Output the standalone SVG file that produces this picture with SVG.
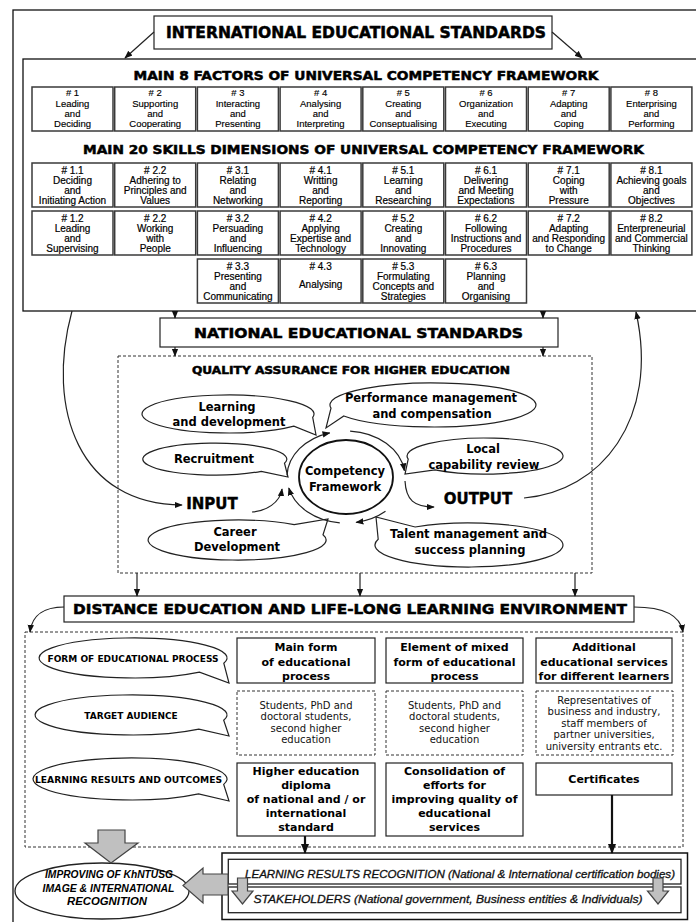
<svg xmlns="http://www.w3.org/2000/svg" width="696" height="922" viewBox="0 0 696 922">
<style>
.bx{fill:#fff;stroke:#3a3a3a;stroke-width:1.5}
.sb{fill:#fff;stroke:#222;stroke-width:1.2}
.db{fill:#fff;stroke:#333;stroke-width:1;stroke-dasharray:3 2}
.bub{fill:#fff;stroke:#222;stroke-width:1.2}
.c{fill:none;stroke:#222;stroke-width:1.2}
.ck{fill:none;stroke:#111;stroke-width:2.2}
.g{fill:#c0c0c0;stroke:#444;stroke-width:1.2}
text{fill:#000}
.s{font-family:"Liberation Sans",Arial,sans-serif;font-size:9.5px;text-anchor:middle;stroke:#000;stroke-width:0.15}
.k{font-family:"Liberation Sans",Arial,sans-serif;font-size:10px;text-anchor:middle;stroke:#000;stroke-width:0.2}
.h{font-family:"DejaVu Sans",Verdana,sans-serif;font-weight:bold;text-anchor:middle;stroke:#000;stroke-width:0.5}
.r{font-family:"DejaVu Sans",Verdana,sans-serif;font-size:10px;text-anchor:middle;fill:#111}
.bt{font-family:"DejaVu Sans",Verdana,sans-serif;font-weight:bold;font-size:11.5px;text-anchor:middle}
.mb{font-family:"DejaVu Sans",Verdana,sans-serif;font-weight:bold;font-size:11px;text-anchor:middle}
.lc{font-family:"DejaVu Sans",Verdana,sans-serif;font-weight:bold;font-size:9px;text-anchor:middle}
.io{font-family:"DejaVu Sans",Verdana,sans-serif;font-weight:bold;font-size:15px;text-anchor:middle;stroke:#000;stroke-width:0.4}
.it{font-family:"Liberation Sans",Arial,sans-serif;font-style:italic;text-anchor:middle;fill:#111;stroke:#111;stroke-width:0.3}
.ib{font-family:"Liberation Sans",Arial,sans-serif;font-style:italic;font-weight:bold;font-size:10px;text-anchor:middle}
</style>
<defs>
<marker id="ah" viewBox="0 0 10 10" refX="9" refY="5" markerWidth="8" markerHeight="8" markerUnits="userSpaceOnUse" orient="auto"><path d="M0,1 L10,5 L0,9 z" fill="#111"/></marker>
<marker id="ahb" viewBox="0 0 10 10" refX="9" refY="5" markerWidth="10" markerHeight="10" markerUnits="userSpaceOnUse" orient="auto"><path d="M0,1 L10,5 L0,9 z" fill="#111"/></marker>
</defs>
<rect width="696" height="922" fill="#fff"/>
<rect x="13" y="10" width="700" height="930" fill="none" stroke="#111" stroke-width="1.3"/>

<g id="international">
<rect class="sb" x="154" y="16" width="398" height="33"/>
<text class="h" x="356" y="38" font-size="15" textLength="380" lengthAdjust="spacingAndGlyphs">INTERNATIONAL EDUCATIONAL STANDARDS</text>
</g>

<g id="framework">
<rect fill="#fff" stroke="#111" stroke-width="1.3" x="23" y="59" width="680" height="252"/>
<text class="h" x="366" y="79.5" font-size="12.5" textLength="465" lengthAdjust="spacingAndGlyphs">MAIN 8 FACTORS OF UNIVERSAL COMPETENCY FRAMEWORK</text>
<text class="h" x="363.5" y="153.5" font-size="12.5" textLength="561" lengthAdjust="spacingAndGlyphs">MAIN 20 SKILLS DIMENSIONS OF UNIVERSAL COMPETENCY FRAMEWORK</text>
</g>

<g id="f1"><rect class="bx" x="32" y="87" width="81" height="44"/><text class="s"><tspan x="72.5" y="95.5"># 1</tspan><tspan x="72.5" y="107">Leading</tspan><tspan x="72.5" y="117">and</tspan><tspan x="72.5" y="127">Deciding</tspan></text></g>
<g id="f2"><rect class="bx" x="114.7" y="87" width="81" height="44"/><text class="s"><tspan x="155.2" y="95.5"># 2</tspan><tspan x="155.2" y="107">Supporting</tspan><tspan x="155.2" y="117">and</tspan><tspan x="155.2" y="127">Cooperating</tspan></text></g>
<g id="f3"><rect class="bx" x="197.4" y="87" width="81" height="44"/><text class="s"><tspan x="237.9" y="95.5"># 3</tspan><tspan x="237.9" y="107">Interacting</tspan><tspan x="237.9" y="117">and</tspan><tspan x="237.9" y="127">Presenting</tspan></text></g>
<g id="f4"><rect class="bx" x="280.1" y="87" width="81" height="44"/><text class="s"><tspan x="320.6" y="95.5"># 4</tspan><tspan x="320.6" y="107">Analysing</tspan><tspan x="320.6" y="117">and</tspan><tspan x="320.6" y="127">Interpreting</tspan></text></g>
<g id="f5"><rect class="bx" x="362.8" y="87" width="81" height="44"/><text class="s"><tspan x="403.3" y="95.5"># 5</tspan><tspan x="403.3" y="107">Creating</tspan><tspan x="403.3" y="117">and</tspan><tspan x="403.3" y="127">Conseptualising</tspan></text></g>
<g id="f6"><rect class="bx" x="445.5" y="87" width="81" height="44"/><text class="s"><tspan x="486" y="95.5"># 6</tspan><tspan x="486" y="107">Organization</tspan><tspan x="486" y="117">and</tspan><tspan x="486" y="127">Executing</tspan></text></g>
<g id="f7"><rect class="bx" x="528.2" y="87" width="81" height="44"/><text class="s"><tspan x="568.7" y="95.5"># 7</tspan><tspan x="568.7" y="107">Adapting</tspan><tspan x="568.7" y="117">and</tspan><tspan x="568.7" y="127">Coping</tspan></text></g>
<g id="f8"><rect class="bx" x="610.9" y="87" width="81" height="44"/><text class="s"><tspan x="651.4" y="95.5"># 8</tspan><tspan x="651.4" y="107">Enterprising</tspan><tspan x="651.4" y="117">and</tspan><tspan x="651.4" y="127">Performing</tspan></text></g>

<g id="s11"><rect class="bx" x="32" y="163" width="81" height="44"/><text class="k"><tspan x="72.5" y="173.5"># 1.1</tspan><tspan x="72.5" y="183.5">Deciding</tspan><tspan x="72.5" y="193.5">and</tspan><tspan x="72.5" y="203.5">Initiating Action</tspan></text></g>
<g id="s21"><rect class="bx" x="114.7" y="163" width="81" height="44"/><text class="k"><tspan x="155.2" y="173.5"># 2.2</tspan><tspan x="155.2" y="183.5">Adhering to</tspan><tspan x="155.2" y="193.5">Principles and</tspan><tspan x="155.2" y="203.5">Values</tspan></text></g>
<g id="s31"><rect class="bx" x="197.4" y="163" width="81" height="44"/><text class="k"><tspan x="237.9" y="173.5"># 3.1</tspan><tspan x="237.9" y="183.5">Relating</tspan><tspan x="237.9" y="193.5">and</tspan><tspan x="237.9" y="203.5">Networking</tspan></text></g>
<g id="s41"><rect class="bx" x="280.1" y="163" width="81" height="44"/><text class="k"><tspan x="320.6" y="173.5"># 4.1</tspan><tspan x="320.6" y="183.5">Writting</tspan><tspan x="320.6" y="193.5">and</tspan><tspan x="320.6" y="203.5">Reporting</tspan></text></g>
<g id="s51"><rect class="bx" x="362.8" y="163" width="81" height="44"/><text class="k"><tspan x="403.3" y="173.5"># 5.1</tspan><tspan x="403.3" y="183.5">Learning</tspan><tspan x="403.3" y="193.5">and</tspan><tspan x="403.3" y="203.5">Researching</tspan></text></g>
<g id="s61"><rect class="bx" x="445.5" y="163" width="81" height="44"/><text class="k"><tspan x="486" y="173.5"># 6.1</tspan><tspan x="486" y="183.5">Delivering</tspan><tspan x="486" y="193.5">and Meeting</tspan><tspan x="486" y="203.5">Expectations</tspan></text></g>
<g id="s71"><rect class="bx" x="528.2" y="163" width="81" height="44"/><text class="k"><tspan x="568.7" y="173.5"># 7.1</tspan><tspan x="568.7" y="183.5">Coping</tspan><tspan x="568.7" y="193.5">with</tspan><tspan x="568.7" y="203.5">Pressure</tspan></text></g>
<g id="s81"><rect class="bx" x="610.9" y="163" width="81" height="44"/><text class="k"><tspan x="651.4" y="173.5"># 8.1</tspan><tspan x="651.4" y="183.5">Achieving goals</tspan><tspan x="651.4" y="193.5">and</tspan><tspan x="651.4" y="203.5">Objectives</tspan></text></g>

<g id="s12"><rect class="bx" x="32" y="211" width="81" height="44"/><text class="k"><tspan x="72.5" y="221.5"># 1.2</tspan><tspan x="72.5" y="231.5">Leading</tspan><tspan x="72.5" y="241.5">and</tspan><tspan x="72.5" y="251.5">Supervising</tspan></text></g>
<g id="s22"><rect class="bx" x="114.7" y="211" width="81" height="44"/><text class="k"><tspan x="155.2" y="221.5"># 2.2</tspan><tspan x="155.2" y="231.5">Working</tspan><tspan x="155.2" y="241.5">with</tspan><tspan x="155.2" y="251.5">People</tspan></text></g>
<g id="s32"><rect class="bx" x="197.4" y="211" width="81" height="44"/><text class="k"><tspan x="237.9" y="221.5"># 3.2</tspan><tspan x="237.9" y="231.5">Persuading</tspan><tspan x="237.9" y="241.5">and</tspan><tspan x="237.9" y="251.5">Influencing</tspan></text></g>
<g id="s42"><rect class="bx" x="280.1" y="211" width="81" height="44"/><text class="k"><tspan x="320.6" y="221.5"># 4.2</tspan><tspan x="320.6" y="231.5">Applying</tspan><tspan x="320.6" y="241.5">Expertise and</tspan><tspan x="320.6" y="251.5">Technology</tspan></text></g>
<g id="s52"><rect class="bx" x="362.8" y="211" width="81" height="44"/><text class="k"><tspan x="403.3" y="221.5"># 5.2</tspan><tspan x="403.3" y="231.5">Creating</tspan><tspan x="403.3" y="241.5">and</tspan><tspan x="403.3" y="251.5">Innovating</tspan></text></g>
<g id="s62"><rect class="bx" x="445.5" y="211" width="81" height="44"/><text class="k"><tspan x="486" y="221.5"># 6.2</tspan><tspan x="486" y="231.5">Following</tspan><tspan x="486" y="241.5">Instructions and</tspan><tspan x="486" y="251.5">Procedures</tspan></text></g>
<g id="s72"><rect class="bx" x="528.2" y="211" width="81" height="44"/><text class="k"><tspan x="568.7" y="221.5"># 7.2</tspan><tspan x="568.7" y="231.5">Adapting</tspan><tspan x="568.7" y="241.5">and Responding</tspan><tspan x="568.7" y="251.5">to Change</tspan></text></g>
<g id="s82"><rect class="bx" x="610.9" y="211" width="81" height="44"/><text class="k"><tspan x="651.4" y="221.5"># 8.2</tspan><tspan x="651.4" y="231.5">Enterpreneurial</tspan><tspan x="651.4" y="241.5">and Commercial</tspan><tspan x="651.4" y="251.5">Thinking</tspan></text></g>

<g id="s33"><rect class="bx" x="197.4" y="259" width="81" height="44"/><text class="k"><tspan x="237.9" y="269.5"># 3.3</tspan><tspan x="237.9" y="279.5">Presenting</tspan><tspan x="237.9" y="289.5">and</tspan><tspan x="237.9" y="299.5">Communicating</tspan></text></g>
<g id="s43"><rect class="bx" x="280.1" y="259" width="81" height="44"/><text class="k"><tspan x="320.6" y="269.5"># 4.3</tspan><tspan x="320.6" y="288">Analysing</tspan></text></g>
<g id="s53"><rect class="bx" x="362.8" y="259" width="81" height="44"/><text class="k"><tspan x="403.3" y="269.5"># 5.3</tspan><tspan x="403.3" y="279.5">Formulating</tspan><tspan x="403.3" y="289.5">Concepts and</tspan><tspan x="403.3" y="299.5">Strategies</tspan></text></g>
<g id="s63"><rect class="bx" x="445.5" y="259" width="81" height="44"/><text class="k"><tspan x="486" y="269.5"># 6.3</tspan><tspan x="486" y="279.5">Planning</tspan><tspan x="486" y="289.5">and</tspan><tspan x="486" y="299.5">Organising</tspan></text></g>

<g id="national">
<rect class="sb" x="160" y="318" width="398" height="29"/>
<text class="h" x="358.5" y="338" font-size="14.5" textLength="329" lengthAdjust="spacingAndGlyphs">NATIONAL EDUCATIONAL STANDARDS</text>
</g>

<g id="quality-assurance">
<rect class="db" x="118" y="356" width="474" height="217"/>
<text class="h" x="351" y="374" font-size="10.5" textLength="318" lengthAdjust="spacingAndGlyphs">QUALITY ASSURANCE FOR HIGHER EDUCATION</text>
</g>

<g id="learning-dev"><path class="bub" d="M293.9,426.2 A86,19 0 1,1 312.7,417.3 L316,435 Z"/><text class="bt"><tspan x="227" y="411">Learning</tspan><tspan x="229" y="426">and development</tspan></text></g>
<g id="performance"><path class="bub" d="M331,408.1 A103,22 0 1,1 343.8,416 L326,428 Z"/><text class="bt"><tspan x="431" y="402">Performance management</tspan><tspan x="432" y="418">and compensation</tspan></text></g>
<g id="recruitment"><path class="bub" d="M261.3,471.3 A72,16 0 1,1 284.5,463.1 L288,477 Z"/><text class="bt" x="214" y="463">Recruitment</text></g>
<g id="local-review"><path class="bub" d="M408.2,459.1 A78,18 0 1,1 434.9,469.8 L405,474 Z"/><text class="bt"><tspan x="483" y="453">Local</tspan><tspan x="484" y="469">capability review</tspan></text></g>
<g id="career"><path class="bub" d="M323,534.8 A89,20 0 1,1 294.2,524.7 L328,519 Z"/><text class="bt"><tspan x="235" y="536">Career</tspan><tspan x="237" y="551">Development</tspan></text></g>
<g id="talent"><path class="bub" d="M415.1,527 A94,22 0 1,1 378.2,539.3 L376,517 Z"/><text class="bt"><tspan x="468.5" y="538">Talent management and</tspan><tspan x="470" y="554">success planning</tspan></text></g>
<g id="competency"><ellipse cx="346" cy="477" rx="47" ry="37" fill="#fff" stroke="#111" stroke-width="1.8"/><text class="bt"><tspan x="345" y="475">Competency</tspan><tspan x="345" y="491">Framework</tspan></text></g>
<g id="input"><text class="io" x="212" y="509">INPUT</text></g>
<g id="output"><text class="io" x="478" y="503.5">OUTPUT</text></g>

<g id="distance">
<rect class="sb" x="64" y="596" width="570" height="26"/>
<text class="h" x="350" y="614" font-size="14" textLength="554" lengthAdjust="spacingAndGlyphs">DISTANCE EDUCATION AND LIFE-LONG LEARNING ENVIRONMENT</text>
</g>

<g id="learning-env"><rect class="db" x="25" y="632" width="658" height="215"/></g>

<g id="form-callout"><path class="bub" d="M199.5,672.1 A94,20 0 1,1 223.8,663.2 L229,683 Z"/><text class="lc" x="133" y="661.5" textLength="171" lengthAdjust="spacingAndGlyphs">FORM OF EDUCATIONAL PROCESS</text></g>
<g id="target-callout"><path class="bub" d="M198.9,729.1 A96,20 0 1,1 223.7,720.2 L229,736 Z"/><text class="lc" x="131" y="718.5">TARGET AUDIENCE</text></g>
<g id="results-callout"><path class="bub" d="M198.6,793.8 A97,21 0 1,1 223.7,784.4 L229,801 Z"/><text class="lc" x="128.5" y="782.5" textLength="187" lengthAdjust="spacingAndGlyphs">LEARNING RESULTS AND OUTCOMES</text></g>

<g id="main-form"><rect class="sb" x="237" y="638" width="138" height="45"/><text class="mb"><tspan x="306" y="651">Main form</tspan><tspan x="306" y="666">of educational</tspan><tspan x="306" y="680">process</tspan></text></g>
<g id="mixed-form"><rect class="sb" x="386" y="638" width="137" height="45"/><text class="mb"><tspan x="454.5" y="651">Element of mixed</tspan><tspan x="454.5" y="666">form of educational</tspan><tspan x="454.5" y="680">process</tspan></text></g>
<g id="additional"><rect class="sb" x="536" y="638" width="136" height="45"/><text class="mb"><tspan x="604" y="651">Additional</tspan><tspan x="604" y="666">educational services</tspan><tspan x="604" y="680">for different learners</tspan></text></g>

<g id="audience-a"><rect class="db" x="237" y="691" width="138" height="64"/><text class="r"><tspan x="306" y="708.5">Students, PhD and</tspan><tspan x="306" y="720">doctoral students,</tspan><tspan x="306" y="731.5">second higher</tspan><tspan x="306" y="743">education</tspan></text></g>
<g id="audience-b"><rect class="db" x="386" y="691" width="137" height="64"/><text class="r"><tspan x="454.5" y="708.5">Students, PhD and</tspan><tspan x="454.5" y="720">doctoral students,</tspan><tspan x="454.5" y="731.5">second higher</tspan><tspan x="454.5" y="743">education</tspan></text></g>
<g id="audience-c"><rect class="db" x="536" y="691" width="137" height="64"/><text class="r"><tspan x="604" y="703.5">Representatives of</tspan><tspan x="604" y="715">business and industry,</tspan><tspan x="604" y="726.5">staff members of</tspan><tspan x="604" y="738">partner universities,</tspan><tspan x="604" y="749.5">university entrants etc.</tspan></text></g>

<g id="diploma"><rect class="sb" x="237" y="763" width="138" height="73"/><text class="mb"><tspan x="306" y="775">Higher education</tspan><tspan x="306" y="789">diploma</tspan><tspan x="306" y="803">of national and / or</tspan><tspan x="306" y="817">international</tspan><tspan x="306" y="831">standard</tspan></text></g>
<g id="consolidation"><rect class="sb" x="386" y="763" width="137" height="73"/><text class="mb"><tspan x="454.5" y="775">Consolidation of</tspan><tspan x="454.5" y="789">efforts for</tspan><tspan x="454.5" y="803">improving quality of</tspan><tspan x="454.5" y="817">educational</tspan><tspan x="454.5" y="831">services</tspan></text></g>
<g id="certificates"><rect class="sb" x="536" y="763" width="136" height="32"/><text class="mb" x="604" y="783">Certificates</text></g>

<g id="recognition">
<rect fill="#fff" stroke="#111" stroke-width="1.5" x="222" y="853" width="465.5" height="66.5"/>
<rect fill="#fff" stroke="#222" stroke-width="1.3" x="228.3" y="859.3" width="452.7" height="24.7"/>
<rect fill="#fff" stroke="#222" stroke-width="1.3" x="228.3" y="887" width="452.7" height="25.7"/>
<text class="it" x="460" y="877.5" font-size="10.5" textLength="430" lengthAdjust="spacingAndGlyphs">LEARNING RESULTS RECOGNITION (National &amp; International certification bodies)</text>
<text class="it" x="448" y="902.5" font-size="11.5" textLength="389" lengthAdjust="spacingAndGlyphs">STAKEHOLDERS (National government, Business entities &amp; Individuals)</text>
<path class="g" d="M237.5,878 H247.5 V891 H253 L242.5,904 L232,891 H237.5 Z"/>
<path class="g" d="M653,878 H663 V891 H668.5 L658,904 L647.5,891 H653 Z"/>
</g>

<g id="improving">
<ellipse cx="102" cy="891" rx="87" ry="28" fill="#fff" stroke="#222" stroke-width="1.3"/>
<text class="ib"><tspan x="109" y="878" textLength="128" lengthAdjust="spacingAndGlyphs">IMPROVING OF KhNTUSG</tspan></text>
<text class="ib"><tspan x="108.5" y="891.5" textLength="132" lengthAdjust="spacingAndGlyphs">IMAGE &amp; INTERNATIONAL</tspan></text>
<text class="ib"><tspan x="107" y="904.5" textLength="80" lengthAdjust="spacingAndGlyphs">RECOGNITION</tspan></text>
</g>

<g id="connectors">
<line class="c" x1="154" y1="32" x2="125" y2="58" marker-end="url(#ah)"/>
<line class="c" x1="552" y1="32" x2="582" y2="58" marker-end="url(#ah)"/>
<line class="c" x1="175" y1="311" x2="175" y2="318" marker-end="url(#ah)"/>
<line class="c" x1="543" y1="311" x2="543" y2="318" marker-end="url(#ah)"/>
<line class="c" x1="175" y1="347" x2="175" y2="356" marker-end="url(#ah)"/>
<line class="c" x1="543" y1="347" x2="543" y2="356" marker-end="url(#ah)"/>
<path class="c" d="M72,311 C45,410 80,505 182,505" marker-end="url(#ah)"/>
<path class="c" d="M524,498 C600,492 660,420 636,312" marker-end="url(#ah)"/>
<path class="c" d="M287,475.4 A59,46 0 0,1 329.7,432.8" marker-end="url(#ah)"/>
<path class="c" d="M350.1,431.1 A59,46 0 0,1 404.4,470.6" marker-end="url(#ah)"/>
<path class="c" d="M385.5,511.2 A59,46 0 0,1 356.2,522.3" marker-end="url(#ah)"/>
<path class="c" d="M339.8,522.8 A59,46 0 0,1 288.8,488.1" marker-end="url(#ah)"/>
<path class="c" d="M252,512 C266,511 280,503 282,489" marker-end="url(#ah)"/>
<path class="c" d="M405,481 C406,500 414,507 434,507" marker-end="url(#ah)"/>
<line class="c" x1="137" y1="573" x2="137" y2="596" marker-end="url(#ah)"/>
<line class="c" x1="360" y1="573" x2="360" y2="596" marker-end="url(#ah)"/>
<line class="c" x1="575" y1="573" x2="575" y2="596" marker-end="url(#ah)"/>
<path class="c" d="M64,607 C46,607 32,614 30,632" marker-end="url(#ah)"/>
<path class="c" d="M634,607 C660,607 680,614 683,632" marker-end="url(#ah)"/>
<line class="ck" x1="305" y1="836" x2="305" y2="853" marker-end="url(#ahb)"/>
<line class="ck" x1="612" y1="795" x2="612" y2="853" marker-end="url(#ahb)"/>
<path class="g" d="M98,830 H125 V843 H138 L111,863 L85,843 H98 Z"/>
<path class="g" d="M228,874 H203 V868 L183,885.5 L203,903 V895 H228 Z"/>
</g>
</svg>
